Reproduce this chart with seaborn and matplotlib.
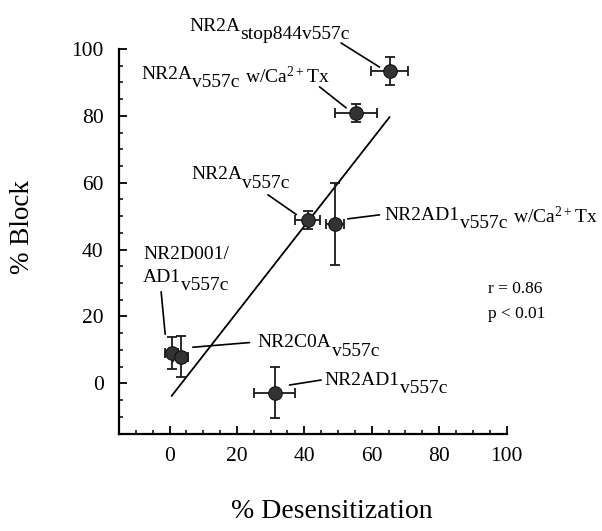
import numpy as np
import matplotlib
matplotlib.use("Agg")
import matplotlib.pyplot as plt
from matplotlib.ticker import MultipleLocator
import seaborn as sns

#-----data-----#
desens = [65.3, 55.4, 41.0, 49.0, 0.6, 3.3, 31.2]
desens_err = [5.5, 6.3, 3.7, 2.7, 2.0, 2.3, 6.0]
block = [93.5, 81.0, 48.8, 47.6, 9.0, 8.0, -2.8]
block_err = [4.2, 2.7, 2.7, 12.2, 4.8, 6.1, 7.6]

x_ticks = [0, 20, 40, 60, 80, 100]
y_ticks = [0, 20, 40, 60, 80, 100]

# label text: (main, subscript, tail)
names = [
    ("NR2A", "stop844v557c", None),
    ("NR2A", "v557c", "w/Ca$^{2+}$Tx"),
    ("NR2A", "v557c", None),
    ("NR2AD1", "v557c", "w/Ca$^{2+}$Tx"),
    ("AD1", "v557c", None),
    ("NR2C0A", "v557c", None),
    ("NR2AD1", "v557c", None),
]

#-----layout of the labels (data coords)-----#
label_pos = [(5.9, 105.5), (-8.4, 91.0), (6.4, 61.0), (63.8, 49.0),
             (-7.9, 30.4), (26.2, 10.8), (46.0, -0.5)]
leaders = [((50.9, 101.8), (62.3, 94.6)),
           ((44.5, 88.7), (52.4, 82.4)),
           ((29.2, 56.4), (37.6, 50.5)),
           ((62.3, 50.4), (52.9, 49.2)),
           ((-2.5, 27.4), (-1.3, 14.7)),
           ((23.7, 12.2), (6.9, 10.8)),
           ((45.0, 1.0), (35.6, -0.5))]

sns.set_theme(style="ticks")
plt.rcParams['font.family'] = ['Liberation Serif', 'DejaVu Serif']
plt.rcParams['mathtext.fontset'] = 'custom'
plt.rcParams['mathtext.rm'] = 'Liberation Serif'
plt.rcParams['mathtext.default'] = 'regular'
plt.rcParams['text.color'] = 'black'
plt.rcParams['axes.labelcolor'] = 'black'

fig = plt.figure(figsize=(6.02, 5.31), dpi=100)
ax = fig.add_axes([0.1977, 0.1836, 0.6437, 0.7241])

# regression line
sns.regplot(x=np.array(desens), y=np.array(block), scatter=False, ci=None,
            truncate=True, ax=ax, line_kws=dict(color="black", lw=1.3))

ax.errorbar(desens, block, xerr=desens_err, yerr=block_err, fmt="none",
            ecolor="#1a1a1a", elinewidth=1.3, capsize=3.5, capthick=1.3, zorder=2)
sns.scatterplot(x=desens, y=block, s=95, color="#333333", edgecolor="#111111",
                linewidth=0.8, ax=ax, zorder=3)

ax.set_xlim(-15, 100)
ax.set_ylim(-15, 100)
ax.set_xticks(x_ticks)
ax.set_yticks(y_ticks)
ax.xaxis.set_minor_locator(MultipleLocator(5))
ax.yaxis.set_minor_locator(MultipleLocator(5))
ax.tick_params(which="major", direction="in", length=6, width=1.3, labelsize=15.5,
               colors="black")
ax.tick_params(axis="x", which="major", pad=10)
ax.tick_params(axis="y", which="major", pad=11)
ax.tick_params(which="minor", direction="in", length=3, width=1.1, colors="black")
sns.despine(ax=ax)
for sp in ["left", "bottom"]:
    ax.spines[sp].set_linewidth(1.6)
    ax.spines[sp].set_color("black")

ax.set_xlabel("% Desensitization", fontsize=20)
ax.set_ylabel("% Block", fontsize=19.5)
ax.xaxis.set_label_coords(0.55, -0.17)
ax.yaxis.set_label_coords(-0.217, 0.537)


def add_label(ax, x, y, main, sub, tail, size=14):
    t = ax.text(x, y, main, fontsize=size, ha="left", va="baseline")
    s = ax.annotate(sub, xy=(1, 0), xycoords=t, xytext=(0, -6),
                    textcoords="offset points", fontsize=size, va="bottom")
    if tail:
        ax.annotate(tail, xy=(1, 0), xycoords=s, xytext=(4, 6),
                    textcoords="offset points", fontsize=size, va="baseline")


for (main, sub, tail), (lx, ly) in zip(names, label_pos):
    add_label(ax, lx, ly, main, sub, tail)
ax.text(label_pos[4][0], label_pos[4][1] + 6.8, "NR2D001/", fontsize=14,
        ha="left", va="baseline")

for start, end in leaders:
    ax.annotate("", xy=end, xytext=start, annotation_clip=False,
                arrowprops=dict(arrowstyle="-", lw=1.2, color="black",
                                shrinkA=0, shrinkB=0))

ax.text(94.4, 26.9, "r = 0.86", fontsize=12.5, ha="left", va="baseline")
ax.text(94.4, 19.6, "p < 0.01", fontsize=12.5, ha="left", va="baseline")

fig.savefig("out.png", dpi=100)
